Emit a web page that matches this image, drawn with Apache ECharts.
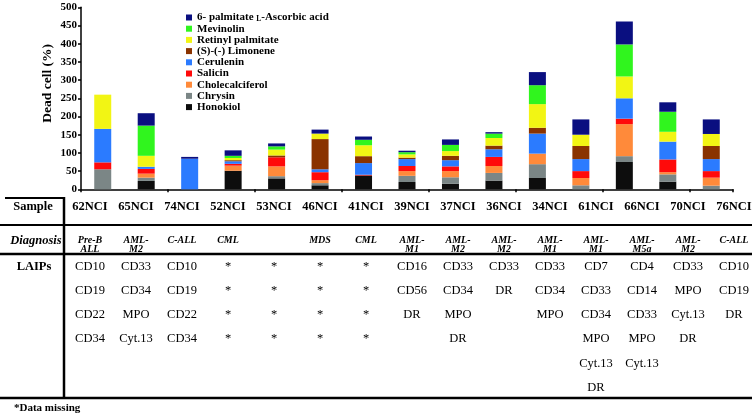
<!DOCTYPE html>
<html>
<head>
<meta charset="utf-8">
<script src="https://cdn.jsdelivr.net/npm/echarts@6/dist/echarts.min.js"></script>
<style>
html,body{margin:0;padding:0;background:#fff;}
#chart{width:756px;height:418px;}
</style>
</head>
<body>
<div id="chart"></div>
<script>
const categories = ['62NCI','65NCI','74NCI','52NCI','53NCI','46NCI','41NCI','39NCI','37NCI','36NCI','34NCI','61NCI','66NCI','70NCI','76NCI'];
const yTicks = [0,50,100,150,200,250,300,350,400,450,500];

const honokiol        = [0,23,0,51,30,11,38,20,15,24,31,0,75,21,0];
const chrysin         = [55,9,0,0,6,6,0,17,18,21,38,11,16,20,10];
const cholecalciferol = [0,11,0,14,27,8,0,13,17,19,29,20,88,6,22];
const salicin         = [19,13,0,5,25,22,2,14,13,25,0,19,15,35,18];
const cerulenin       = [92,6,84,7,0,8,32,19,17,21,55,33,56,49,33];
const limonene        = [0,0,0,3,5,83,19,4,12,10,16,36,0,0,36];
const retinyl         = [94,30,0,6,16,15,30,9,13,21,65,31,60,27,33];
const mevinolin       = [0,83,0,6,9,0,15,6,17,12,52,0,88,55,0];
const ascorbic        = [0,34,5,15,8,11,9,4,15,4,36,42,63,26,40];

const diagnosis = [['Pre-B','ALL'],['AML-','M2'],['C-ALL'],['CML'],[],['MDS'],['CML'],['AML-','M1'],['AML-','M2'],['AML-','M2'],['AML-','M1'],['AML-','M1'],['AML-','M5a'],['AML-','M2'],['C-ALL']];
const laips = [
  ['CD10','CD19','CD22','CD34'],
  ['CD33','CD34','MPO','Cyt.13'],
  ['CD10','CD19','CD22','CD34'],
  ['*','*','*','*'],
  ['*','*','*','*'],
  ['*','*','*','*'],
  ['*','*','*','*'],
  ['CD16','CD56','DR'],
  ['CD33','CD34','MPO','DR'],
  ['CD33','DR'],
  ['CD33','CD34','MPO'],
  ['CD7','CD33','CD34','MPO','Cyt.13','DR'],
  ['CD4','CD14','CD33','MPO','Cyt.13'],
  ['CD33','MPO','Cyt.13','DR'],
  ['CD10','CD19','DR']
];

const seriesDefs = [
  ['Honokiol', honokiol, '#0d0d0d'],
  ['Chrysin', chrysin, '#7b8686'],
  ['Cholecalciferol', cholecalciferol, '#ff8a3a'],
  ['Salicin', salicin, '#ff0a0a'],
  ['Cerulenin', cerulenin, '#2b7bff'],
  ['(S)-(-) Limonene', limonene, '#8a3300'],
  ['Retinyl palmitate', retinyl, '#f2f514'],
  ['Mevinolin', mevinolin, '#30f51e'],
  ['6- palmitate L-Ascorbic acid', ascorbic, '#0a0f80']
];

const serif = "'Liberation Serif','Times New Roman',serif";
const chart = echarts.init(document.getElementById('chart'), null, {renderer:'canvas'});

const colX = i => 90 + i * 46;
const graphics = [];
const line = (x1,y1,x2,y2,w) => graphics.push({type:'line', silent:true, shape:{x1,y1,x2,y2}, style:{stroke:'#000', lineWidth:w}});
line(5,198,65,198,2);
line(64,197,64,399,2.5);
line(0,225,752,225,1.8);
line(0,254,752,254,2.5);
line(0,398,752,398,2.5);
const txt = (t,x,y,size,weight,style,align) => graphics.push({type:'text', silent:true, style:{text:t, x, y, fontSize:size, fontWeight:weight||'normal', fontStyle:style||'normal', fontFamily:serif, fill:'#000', textAlign:align||'center', textVerticalAlign:'middle'}});
txt('Sample', 33, 207, 12.5, 'bold');
txt('Diagnosis', 36, 241, 12.5, 'bold', 'italic');
txt('LAIPs', 34, 267, 12.5, 'bold');
txt('*Data missing', 14, 408, 11, 'bold', 'normal', 'left');
const laipY = [267, 291, 315, 339, 364, 388];
categories.forEach((c,i) => {
  txt(c, colX(i), 207, 12.5, 'bold');
  diagnosis[i].forEach((d,j) => txt(d, colX(i), 240 + j*9.5, 10, 'bold', 'italic'));
  laips[i].forEach((l,j) => txt(l, colX(i), laipY[j], 12.5, 'normal'));
});

const legendOrder = seriesDefs.map(s => s[0]).reverse();

chart.setOption({
  backgroundColor:'#fff',
  animation:false,
  grid:{left:81, top:7.3, width:652, height:182},
  legend:{
    orient:'vertical', left:181, top:7,
    data: legendOrder,
    itemWidth:6, itemHeight:6, itemGap:0.2,
    icon:'rect',
    formatter: n => n === '6- palmitate L-Ascorbic acid' ? '6- palmitate {sub|L}-Ascorbic acid' : n,
    textStyle:{fontFamily:serif, fontWeight:'bold', fontSize:11, color:'#000', lineHeight:10,
      rich:{sub:{fontFamily:serif, fontWeight:'bold', fontSize:7.5, lineHeight:10, padding:[3,0,0,0], color:'#000'}}}
  },
  xAxis:{
    type:'category', data:categories,
    axisLine:{lineStyle:{color:'#000', width:1.5}},
    axisTick:{show:true, length:3, lineStyle:{color:'#000', width:1.5}},
    axisLabel:{show:false}
  },
  yAxis:{
    type:'value', min:yTicks[0], max:yTicks[yTicks.length-1], interval:yTicks[1]-yTicks[0],
    name:'Dead cell (%)', nameLocation:'middle', nameGap:26, nameMoveOverlap:false,
    nameTextStyle:{fontFamily:serif, fontWeight:'bold', fontSize:13.5, color:'#000', padding:[0,0,0,30]},
    axisLine:{show:true, lineStyle:{color:'#000', width:1.5}},
    axisTick:{show:true, length:3, lineStyle:{color:'#000', width:1.5}},
    axisLabel:{fontFamily:serif, fontWeight:'bold', fontSize:11, color:'#000', margin:4},
    splitLine:{show:false}
  },
  series: seriesDefs.map(([name, vals, color]) => ({
    name, type:'bar', stack:'total', barWidth:17,
    data: vals.map(v => v === 0 ? '-' : v),
    itemStyle:{color},
    emphasis:{disabled:true}
  })),
  graphic: graphics
});
</script>
</body>
</html>
